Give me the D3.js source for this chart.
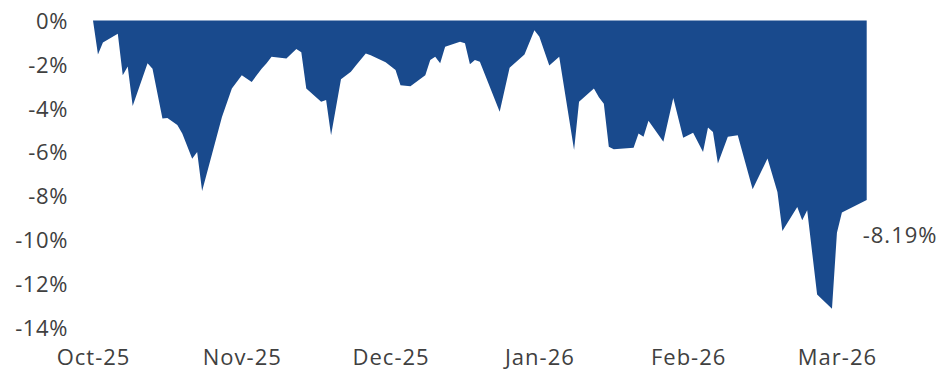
<!DOCTYPE html>
<html>
<head>
<meta charset="utf-8">
<script src="https://cdn.jsdelivr.net/npm/d3@7/dist/d3.min.js"></script>
<style>
  html, body { margin: 0; padding: 0; background: #fff; }
  svg { display: block; }
  text { font-family: "Open Sans", "Liberation Sans", sans-serif; fill: #404040; }
</style>
</head>
<body>
<svg id="chart" width="942" height="373"></svg>
<script>
// Trading-day index of each vertex of the drawdown curve
const dayIndex = [0, 1, 2, 5, 6, 7, 8, 11, 12, 14, 15, 17, 18, 20, 21, 22, 26, 28, 30, 32,
  34, 35, 36, 39, 41, 42, 43, 46, 47, 48, 50, 52, 53, 55, 56, 59, 61, 62, 64, 67,
  68, 69, 70, 71, 74, 75, 76, 77, 78, 82, 84, 87, 89, 90, 92, 94, 97, 98, 101, 102,
  103, 104, 105, 109, 110, 111, 112, 115, 117, 119, 121, 123, 124, 125, 126, 128, 130, 133, 136, 138,
  139, 142, 143, 144, 146, 149, 150, 151, 156];
// Drawdown (%) at each vertex
const drawdown = [0, -1.55, -1.0, -0.6, -2.5, -2.1, -3.9, -1.95, -2.2, -4.47, -4.45, -4.77, -5.15, -6.3, -6.0, -7.77, -4.4, -3.1, -2.5, -2.8,
  -2.2, -1.95, -1.65, -1.73, -1.3, -1.45, -3.1, -3.7, -3.63, -5.23, -2.68, -2.34, -2.05, -1.5, -1.58, -1.9, -2.26, -2.95, -3.0, -2.5,
  -1.8, -1.65, -1.95, -1.2, -0.97, -1.04, -2.0, -1.8, -1.88, -4.16, -2.15, -1.55, -0.45, -0.74, -2.05, -1.65, -5.9, -3.7, -3.1, -3.5,
  -3.8, -5.76, -5.87, -5.8, -5.15, -5.3, -4.57, -5.53, -3.53, -5.35, -5.12, -6.0, -4.88, -5.08, -6.52, -5.3, -5.23, -7.7, -6.29, -7.82,
  -9.6, -8.5, -9.11, -8.65, -12.5, -13.14, -9.68, -8.76, -8.19];
const lastDay = 156;
const xTickDays = [0, 30, 60, 90, 120, 150];
const xTickLabels = ["Oct-25", "Nov-25", "Dec-25", "Jan-26", "Feb-26", "Mar-26"];
const yTicks = [0, -2, -4, -6, -8, -10, -12, -14];
const endLabel = "-8.19%";

const svg = d3.select("#chart");
const x = d3.scaleLinear().domain([0, lastDay]).range([93, 866.7]);
const y = d3.scaleLinear().domain([-14, 0]).range([327.5, 20.5]);

const points = dayIndex.map((d, i) => ({ d, v: drawdown[i] }));

svg.append("path")
  .datum(points)
  .attr("fill", "#194a8d")
  .attr("d", d3.area().x(p => x(p.d)).y0(y(0)).y1(p => y(p.v)));

// Y axis
const yAxis = d3.axisLeft(y).tickValues(yTicks).tickSize(0).tickPadding(0)
  .tickFormat(d => d + "%");
const gy = svg.append("g").attr("transform", "translate(68,0)").call(yAxis);
gy.select(".domain").remove();
gy.selectAll("text").attr("font-size", 22).attr("fill", "#404040")
  .style("font-family", '"Open Sans", sans-serif').style("letter-spacing", "0.6px")
  .attr("dy", "0.36em");

// X axis
const xAxis = d3.axisBottom(x).tickValues(xTickDays).tickSize(0).tickPadding(0)
  .tickFormat((d, i) => xTickLabels[i]);
const gx = svg.append("g").attr("transform", "translate(0,357)").call(xAxis);
gx.select(".domain").remove();
gx.selectAll("text").attr("font-size", 22).attr("fill", "#404040")
  .style("font-family", '"Open Sans", sans-serif').style("letter-spacing", "1px")
  .attr("dy", "0.36em");

// End label
const last = points[points.length - 1];
svg.append("text")
  .attr("x", x(last.d) - 4)
  .attr("y", y(last.v) + 35)
  .attr("dy", "0.36em")
  .attr("font-size", 22)
  .style("letter-spacing", "1px")
  .text(endLabel);
</script>
</body>
</html>
